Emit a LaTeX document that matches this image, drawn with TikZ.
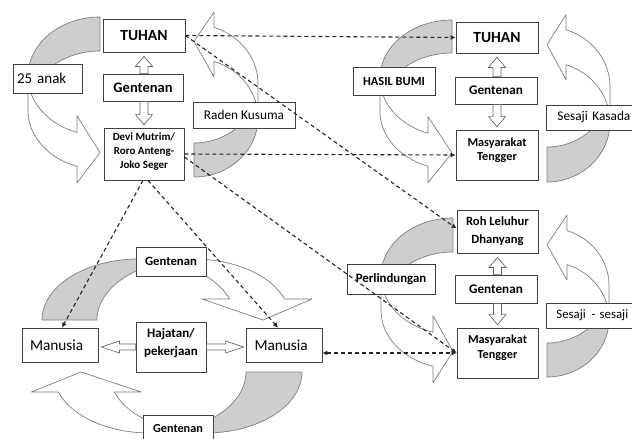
\documentclass[tikz,border=0pt]{standalone}
\usepackage{fontspec}
\setmainfont{Carlito}
\usetikzlibrary{arrows.meta,calc}
\definecolor{boxline}{HTML}{3F3F3F}
\definecolor{arrline}{HTML}{7F7F7F}
\definecolor{arrgray}{HTML}{CECECE}
\definecolor{dashc}{HTML}{262626}
\newcommand{\fs}[2]{\fontsize{#1}{#2}\selectfont}
\newcommand{\curvedarr}[6]{%
 \begin{scope}[#1]
 \pgfmathsetmacro\caW{#2}%
 \pgfmathsetmacro\caH{#3}%
 \pgfmathsetmacro\caT{#4}%
 \pgfmathsetmacro\caA{#5}%
 \pgfmathsetmacro\caAh{#6}%
 \pgfmathsetmacro\caR{\caH/2-(\caT+\caA)/4}%
 \pgfmathsetmacro\caAl{acos(\caAh/\caW)}%
 \pgfmathsetmacro\caDy{\caR*sin(\caAl)}%
 \pgfmathsetmacro\caBe{asin(\caT/(2*\caR))}%
 \pgfmathsetmacro\caSa{180-\caBe}%
 \pgfmathsetmacro\caSb{180+\caBe}%
 \pgfmathsetmacro\caPhi{180-\caAl}%
 \pgfmathsetmacro\caXa{\caW-\caAh}%
 \pgfmathsetmacro\caDh{(\caA-\caT)/2}%
 \pgfmathsetmacro\caYfour{\caR+\caDy-\caDh}%
 \pgfmathsetmacro\caYseven{\caR+\caT+\caDy}%
 \pgfmathsetmacro\caYeight{\caYseven+\caDh}%
 \pgfmathsetmacro\caYsix{\caH-\caA/2}%
 \filldraw[backpart] plot[domain=\caSa:270, samples=50, variable=\t] ({\caW+\caW*cos(\t)},{\caR+\caR*sin(\t)}) -- (\caW,\caT) -- plot[domain=270:\caSb, samples=50, variable=\t] ({\caW+\caW*cos(\t)},{\caR+\caT+\caR*sin(\t)}) -- cycle;
 \filldraw[frontpart] plot[domain=180:\caPhi, samples=50, variable=\t] ({\caW+\caW*cos(\t)},{\caR+\caR*sin(\t)}) -- (\caXa,\caYfour) -- (\caW,\caYsix) -- (\caXa,\caYeight) -- (\caXa,\caYseven) -- plot[domain=\caPhi:180, samples=50, variable=\t] ({\caW+\caW*cos(\t)},{\caR+\caT+\caR*sin(\t)}) -- cycle;
 \end{scope}}
\newcommand{\blockarrow}[5]{%
 \path let \p1=($#2-#1$) in \pgfextra{\pgfmathsetmacro\baLen{veclen(\x1,\y1)}\pgfmathsetmacro\baAng{atan2(\y1,\x1)}\global\let\baLen\baLen\global\let\baAng\baAng};
 \pgfmathsetmacro\baHb{\baLen-#5}%
 \begin{scope}[shift={#1}, rotate=\baAng]
 \draw[blockarr] (0pt,-#3pt) -- (\baHb pt,-#3pt) -- (\baHb pt,-#4pt) -- (\baLen pt,0pt) -- (\baHb pt,#4pt) -- (\baHb pt,#3pt) -- (0pt,#3pt) -- cycle;
 \end{scope}}
\tikzset{
 box/.style={draw=boxline, fill=white, line width=0.8pt, inner sep=0pt, align=center, text=black},
 txt/.style={inner sep=0pt, align=center, text=black},
 backpart/.style={fill=arrgray, draw=arrline, line width=0.7pt, line join=round},
 frontpart/.style={fill=white, draw=arrline, line width=0.7pt, line join=round},
 blockarr/.style={fill=white, draw=arrline!80!black, line width=0.7pt, line join=miter},
 dasharr/.style={draw=dashc, line width=1.1pt, dash pattern=on 4pt off 3pt, -{Latex[length=5pt,width=5pt]}},
 dasharrb/.style={draw=dashc, line width=1.1pt, dash pattern=on 4pt off 3pt, {Latex[length=5pt,width=5pt]}-{Latex[length=5pt,width=5pt]}}
}
\begin{document}
\begin{tikzpicture}[x=1pt,y=-1pt]
\useasboundingbox (0,0) rectangle (632,439);
\clip (0,0) rectangle (632,439);
\fill[white] (0,0) rectangle (632,439);
% curved arrows
\curvedarr{shift={(28,17)},x={(1pt,0pt)},y={(0pt,-1pt)}}{72}{169}{34}{67}{23}
\curvedarr{shift={(380,20)},x={(1pt,0pt)},y={(0pt,-1pt)}}{72}{166}{33}{66}{24}
\curvedarr{shift={(381,218)},x={(1pt,0pt)},y={(0pt,-1pt)}}{72}{167}{34}{67}{20}
\curvedarr{shift={(258,177)},x={(-1pt,0pt)},y={(0pt,1pt)}}{64}{168}{34}{65}{20}
\curvedarr{shift={(610,182)},x={(-1pt,0pt)},y={(0pt,1pt)}}{63}{170}{35}{65}{19}
\curvedarr{shift={(609,377)},x={(-1pt,0pt)},y={(0pt,1pt)}}{62}{165}{34}{65}{20}
\curvedarr{shift={(42,259)},x={(0pt,-1pt)},y={(1pt,0pt)}}{61}{276}{55}{110}{21}
\curvedarr{shift={(302,433)},x={(0pt,1pt)},y={(-1pt,0pt)}}{61}{276}{56}{110}{20}
% boxes
\node[box, minimum width=82pt, minimum height=33pt, font={\fs{15.5}{18}\bfseries}] (tuhanL) at (144,35.5) {TUHAN};
\node[box, minimum width=80pt, minimum height=27pt, font={\fs{14.5}{17}\bfseries}] (gentL) at (143,87.5) {Gentenan};
\node[box, minimum width=80pt, minimum height=52pt] (devi) at (144,154) {};
\node[txt, font={\fs{11}{13.7}\bfseries}] (devit) at (144,151.5) {Devi Mutrim/\\Roro Anteng-\\Joko Seger};
\node[box, minimum height=29pt, text width=61pt, inner xsep=4pt, align=left, font={\fs{15}{18}}] (anak) at (47.5,78.5) {25 anak};
\node[box, minimum width=102pt, minimum height=26pt, font={\fs{13.3}{16}}] (raden) at (244,115) {Raden Kusuma};
\node[box, minimum width=82pt, minimum height=31pt, font={\fs{15.5}{18}\bfseries}] (tuhanR) at (497,37.5) {TUHAN};
\node[box, minimum width=82pt, minimum height=28pt, font={\fs{12.4}{15}\bfseries}] (hasil) at (394,81) {HASIL BUMI};
\node[box, minimum width=82pt, minimum height=27pt, font={\fs{13.2}{16}\bfseries}] (gentR) at (496,90.5) {Gentenan};
\node[box, minimum width=82pt, minimum height=50pt] (masyT) at (497,155) {};
\node[txt, font={\fs{12.2}{14.2}\bfseries}] (masyTt) at (497,150) {Masyarakat\\Tengger};
\node[box, anchor=west, minimum height=25pt, text width=100pt, inner xsep=11pt, align=left, font={\fs{13.3}{16}}] (kasada) at (546,117.5) {Sesaji Kasada};
\node[box, minimum width=81pt, minimum height=43pt, font={\fs{12.6}{18}\bfseries}] (roh) at (497.5,231.5) {Roh Leluhur\\Dhanyang};
\node[box, minimum width=88pt, minimum height=30pt, font={\fs{12.8}{15}\bfseries}] (perl) at (391,279) {Perlindungan};
\node[box, minimum width=82pt, minimum height=28pt, font={\fs{13.2}{16}\bfseries}] (gentR2) at (496,289) {Gentenan};
\node[box, minimum width=81pt, minimum height=50pt] (masyB) at (497.5,353) {};
\node[txt, font={\fs{12.2}{14.5}\bfseries}] (masyBt) at (497.5,347.5) {Masyarakat\\Tengger};
\node[box, anchor=west, minimum height=25pt, text width=100pt, inner xsep=10pt, align=left, font={\fs{12.8}{16}}] (sesaji) at (546,315.5) {Sesaji\hspace{0.45em}- sesaji};
\node[box, minimum width=70pt, minimum height=29pt, font={\fs{12.7}{15}\bfseries}] (gentM) at (171,261.5) {Gentenan};
\node[box, minimum height=34pt, text width=60pt, inner xsep=8pt, align=left, font={\fs{15.3}{18}}] (manL) at (60,345) {Manusia};
\node[box, minimum width=70pt, minimum height=50pt] (hajat) at (171,347) {};
\node[txt, font={\fs{13}{18}\bfseries}] (hajatt) at (171,343.5) {Hajatan/\\pekerjaan};
\node[box, minimum height=34pt, text width=59pt, inner xsep=8.5pt, align=left, font={\fs{15.3}{18}}] (manR) at (284,345) {Manusia};
\node[box, minimum width=70pt, minimum height=28pt, font={\fs{12.2}{15}\bfseries}] (gentB) at (178,429) {Gentenan};
% block arrows
\coordinate (upLb) at (tuhanL.south |- gentL.north);
\coordinate (upLt) at ($(tuhanL.south)+(0,4)$);
\coordinate (dnLb) at (devi.north |- gentL.south);
\coordinate (dnLt) at ($(devi.north)+(0,-3)$);
\coordinate (upRb) at (tuhanR.south |- gentR.north);
\coordinate (upRt) at ($(tuhanR.south)+(0,4)$);
\coordinate (dnRb) at (masyT.north |- gentR.south);
\coordinate (dnRt) at ($(masyT.north)+(0,-3)$);
\coordinate (upR2b) at (roh.south |- gentR2.north);
\coordinate (upR2t) at ($(roh.south)+(0,4)$);
\coordinate (dnR2b) at (masyB.north |- gentR2.south);
\coordinate (dnR2t) at ($(masyB.north)+(0,-3)$);
\coordinate (hlt) at ($(hajat.west -| manL.east)+(3,0)$);
\coordinate (hrt) at ($(hajat.east -| manR.west)+(-2,0)$);
\blockarrow{(upLb)}{(upLt)}{4}{8.5}{10}
\blockarrow{(dnLb)}{(dnLt)}{4}{8.5}{10}
\blockarrow{(upRb)}{(upRt)}{4}{8.5}{10}
\blockarrow{(dnRb)}{(dnRt)}{4}{8.5}{10}
\blockarrow{(upR2b)}{(upR2t)}{4}{8.5}{10}
\blockarrow{(dnR2b)}{(dnR2t)}{4}{8.5}{10}
\blockarrow{(hajat.west)}{(hlt)}{3}{6}{18}
\blockarrow{(hajat.east)}{(hrt)}{3}{6}{18}
% dashed connectors
\draw[dasharr] (tuhanL.east) -- (tuhanR.west);
\draw[dasharr] (tuhanL.east) -- ($(roh.west)+(0,-3)$);
\draw[dasharr] (devi.east) -- (masyT.west);
\draw[dasharr] ($(devi.east)+(0,3)$) -- (masyB.west);
\draw[dasharrb] (manR.east |- masyB.west) -- (masyB.west);
\draw[dasharr] ($(devi.south)+(-1,0)$) -- ($(manL.north)+(2,0)$);
\draw[dasharr] ($(devi.south)+(4,0)$) -- ($(manR.north)+(-6,0)$);
\end{tikzpicture}
\end{document}
